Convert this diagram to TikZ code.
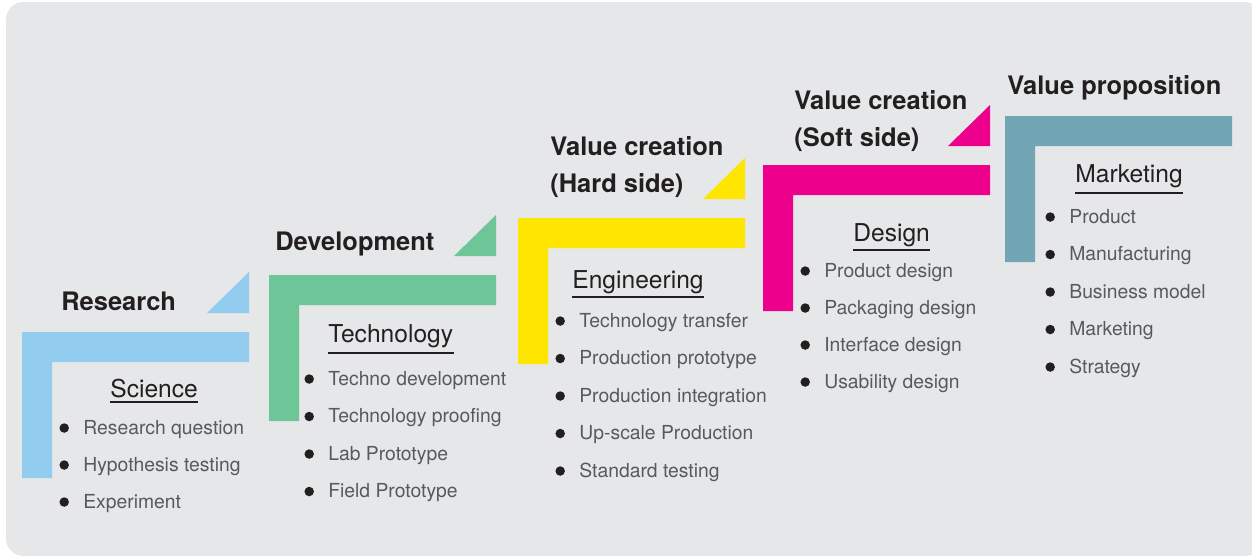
\documentclass[tikz,border=0pt]{standalone}
\usepackage{fontspec}
\setmainfont{TeX Gyre Heros}
\definecolor{panelgray}{HTML}{E6E7E9}
\definecolor{skyblue}{HTML}{92CDEF}
\definecolor{mintgreen}{HTML}{6EC598}
\definecolor{signyellow}{HTML}{FFE600}
\definecolor{hotmagenta}{HTML}{EC008C}
\definecolor{steelteal}{HTML}{73A6B4}
\definecolor{inkblack}{HTML}{231F20}
\definecolor{itemgray}{HTML}{58595B}
\tikzset{
  steptitle/.style={anchor=base west, inner sep=0pt, align=left, text=inkblack,
    font=\fontsize{14.5}{21}\selectfont\bfseries},
  stephead/.style={anchor=base west, inner sep=0pt, text=inkblack,
    font=\fontsize{14}{17}\selectfont},
  headline/.style={draw=inkblack, line width=1.2pt},
  itemdot/.style={circle, fill=inkblack, inner sep=0pt, minimum size=5.4pt, label distance=7.8pt},
  stepitem/.style={anchor=base west, inner sep=0pt, text height=9pt, text depth=2.2pt,
    text=itemgray, font=\fontsize{11}{13}\selectfont, label={[itemdot]left:{}}},
}
\begin{document}
\begin{tikzpicture}[x=0.02cm,y=-0.02cm]
\useasboundingbox (0,0) rectangle (1252,558);
\fill[panelgray, rounded corners=10pt] (6,2) rectangle (1262,556);

% step 1: research
\pgfmathsetmacro{\xo}{22}
\pgfmathsetmacro{\yo}{332}

  \fill[skyblue] (0+\xo,0+\yo) -- (227+\xo,0+\yo) -- (227+\xo,30+\yo) -- (30+\xo,30+\yo) -- (30+\xo,146+\yo) -- (0+\xo,146+\yo) -- cycle;
  \fill[skyblue] (185+\xo,-19+\yo) -- (227+\xo,-19+\yo) -- (227+\xo,-60+\yo) -- cycle;
  \node[steptitle] (research) at (39+\xo,-22+\yo) {Research};
  \node[stephead] (science) at (88+\xo,65+\yo) {Science\ };
  \draw[headline] ([yshift=-2.8pt]science.base west) -- ([yshift=-2.8pt]science.base east);
  \node[stepitem] (sci1) at (61+\xo,102+\yo) {Research question};
  \node[stepitem] (sci2) at (61+\xo,139+\yo) {Hypothesis testing};
  \node[stepitem] (sci3) at (61+\xo,176+\yo) {Experiment};

% step 2: development
\pgfmathsetmacro{\xo}{269}
\pgfmathsetmacro{\yo}{275}

  \fill[mintgreen] (0+\xo,0+\yo) -- (227+\xo,0+\yo) -- (227+\xo,30+\yo) -- (30+\xo,30+\yo) -- (30+\xo,146+\yo) -- (0+\xo,146+\yo) -- cycle;
  \fill[mintgreen] (185+\xo,-19+\yo) -- (227+\xo,-19+\yo) -- (227+\xo,-60+\yo) -- cycle;
  \node[steptitle] (development) at (6+\xo,-25+\yo) {Development};
  \node[stephead] (technology) at (59+\xo,67+\yo) {Technology};
  \draw[headline] ([yshift=-6.2pt]technology.base west) -- ([yshift=-6.2pt]technology.base east);
  \node[stepitem] (tec1) at (59+\xo,110+\yo) {Techno development};
  \node[stepitem] (tec2) at (59+\xo,147.5+\yo) {Technology proofing};
  \node[stepitem] (tec3) at (59+\xo,185+\yo) {Lab Prototype};
  \node[stepitem] (tec4) at (59+\xo,222.5+\yo) {Field Prototype};

% step 3: value creation, hard side
\pgfmathsetmacro{\xo}{518}
\pgfmathsetmacro{\yo}{218}

  \fill[signyellow] (0+\xo,0+\yo) -- (227+\xo,0+\yo) -- (227+\xo,30+\yo) -- (30+\xo,30+\yo) -- (30+\xo,146+\yo) -- (0+\xo,146+\yo) -- cycle;
  \fill[signyellow] (185+\xo,-19+\yo) -- (227+\xo,-19+\yo) -- (227+\xo,-60+\yo) -- cycle;
  \node[steptitle] (hardside) at (32+\xo,-26+\yo) {Value creation\\(Hard side)};
  \node[stephead] (engineering) at (54+\xo,70+\yo) {Engineering};
  \draw[headline] ([yshift=-5.3pt]engineering.base west) -- ([yshift=-5.3pt]engineering.base east);
  \node[stepitem] (eng1) at (61+\xo,109+\yo) {Technology transfer};
  \node[stepitem] (eng2) at (61+\xo,146.5+\yo) {Production prototype};
  \node[stepitem] (eng3) at (61+\xo,184+\yo) {Production integration};
  \node[stepitem] (eng4) at (61+\xo,221.5+\yo) {Up-scale Production};
  \node[stepitem] (eng5) at (61+\xo,259+\yo) {Standard testing};

% step 4: value creation, soft side
\pgfmathsetmacro{\xo}{763}
\pgfmathsetmacro{\yo}{165}

  \fill[hotmagenta] (0+\xo,0+\yo) -- (227+\xo,0+\yo) -- (227+\xo,30+\yo) -- (30+\xo,30+\yo) -- (30+\xo,146+\yo) -- (0+\xo,146+\yo) -- cycle;
  \fill[hotmagenta] (185+\xo,-19+\yo) -- (227+\xo,-19+\yo) -- (227+\xo,-60+\yo) -- cycle;
  \node[steptitle] (softside) at (31+\xo,-19+\yo) {Value creation\\(Soft side)};
  \node[stephead] (design) at (90+\xo,76+\yo) {Design};
  \draw[headline] ([yshift=-5.3pt]design.base west) -- ([yshift=-5.3pt]design.base east);
  \node[stepitem] (des1) at (61+\xo,112+\yo) {Product design};
  \node[stepitem] (des2) at (61+\xo,149+\yo) {Packaging design};
  \node[stepitem] (des3) at (61+\xo,186+\yo) {Interface design};
  \node[stepitem] (des4) at (61+\xo,223+\yo) {Usability design};

% step 5: value proposition
\pgfmathsetmacro{\xo}{1005}
\pgfmathsetmacro{\yo}{116}

  \fill[steelteal] (0+\xo,0+\yo) -- (227+\xo,0+\yo) -- (227+\xo,30+\yo) -- (30+\xo,30+\yo) -- (30+\xo,146+\yo) -- (0+\xo,146+\yo) -- cycle;
  \node[steptitle] (proposition) at (2+\xo,-22+\yo) {Value proposition};
  \node[stephead] (marketing) at (70+\xo,66+\yo) {Marketing};
  \draw[headline] ([yshift=-6.2pt]marketing.base west) -- ([yshift=-6.2pt]marketing.base east);
  \node[stepitem] (mkt1) at (64+\xo,107+\yo) {Product};
  \node[stepitem] (mkt2) at (64+\xo,144.5+\yo) {Manufacturing};
  \node[stepitem] (mkt3) at (64+\xo,182+\yo) {Business model};
  \node[stepitem] (mkt4) at (64+\xo,219.5+\yo) {Marketing};
  \node[stepitem] (mkt5) at (64+\xo,257+\yo) {Strategy};

\end{tikzpicture}
\end{document}
